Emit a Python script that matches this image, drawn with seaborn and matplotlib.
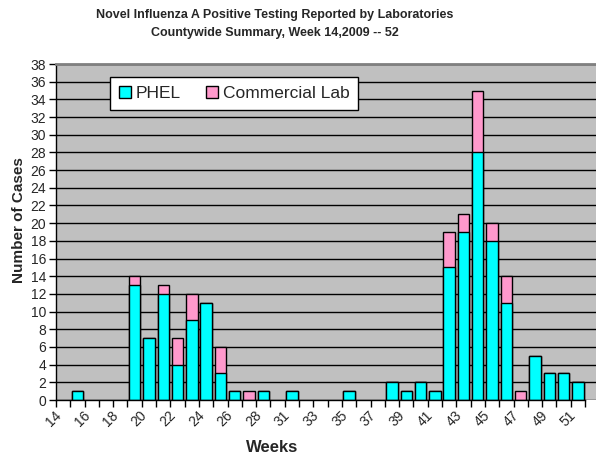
import numpy as np
import pandas as pd
import seaborn as sns
import matplotlib.pyplot as plt
import matplotlib.transforms as mtransforms

weeks = ['14', '15', '16', '17', '18', '19', '20', '21', '22', '23', '24', '25', '26', '27', '28',
         '29', '31', '32', '33', '34', '35', '36', '37', '38', '39', '40', '41', '42', '43', '44',
         '45', '46', '47', '48', '49', '50', '51']
phel = [0, 1, 0, 0, 0, 13, 7, 12, 4, 9, 11, 3, 1, 0, 1,
        0, 1, 0, 0, 0, 1, 0, 0, 2, 1, 2, 1, 15, 19, 28,
        18, 11, 0, 5, 3, 3, 2]
commercial = [0, 0, 0, 0, 0, 1, 0, 1, 3, 3, 0, 3, 0, 1, 0,
              0, 0, 0, 0, 0, 0, 0, 0, 0, 0, 0, 0, 4, 2, 7,
              2, 3, 1, 0, 0, 0, 0]
week_labels = ['14', '16', '18', '20', '22', '24', '26', '28', '31', '33', '35', '37', '39',
               '41', '43', '45', '47', '49', '51']

CYAN = "#00FFFF"
PINK = "#FF99CC"

sns.set_style("white")
plt.rcParams["font.family"] = ["Liberation Sans", "DejaVu Sans"]

df = pd.DataFrame({"week": weeks, "phel": phel, "commercial": commercial})
df["total"] = df["phel"] + df["commercial"]

fig = plt.figure(figsize=(5.96, 4.59), dpi=100)
ax = fig.add_axes([56 / 596, 59 / 459, 540 / 596, 336 / 459])
ax.set_facecolor("#C0C0C0")

# stacked: total (pink) first, PHEL (cyan) over it
sns.barplot(data=df, x="week", y="total", order=weeks, color=PINK, saturation=1,
            edgecolor="black", linewidth=1, width=0.8, errorbar=None, ax=ax)
sns.barplot(data=df, x="week", y="phel", order=weeks, color=CYAN, saturation=1,
            edgecolor="black", linewidth=1, width=0.8, errorbar=None, ax=ax)
for p in ax.patches:
    if p.get_height() == 0:
        p.set_visible(False)

n = len(weeks)
ax.set_xlim(-0.5, n - 0.5 + 11 / 14.3)
ax.set_ylim(0, 38)
ax.set_yticks(range(0, 39, 2))
ax.grid(axis="y", color="black", linewidth=1)
ax.set_axisbelow(True)

ax.set_xticks(np.arange(n + 1) - 0.5)
ax.set_xticklabels([])
ax.set_xticks(range(0, n, 2), minor=True)
ax.set_xticklabels(week_labels, minor=True, rotation=45, ha="right",
                   rotation_mode="anchor", fontsize=10)
ax.tick_params(axis="x", which="major", direction="out", length=5, width=1, color="black", bottom=True)
ax.tick_params(axis="x", which="minor", length=0, pad=6)
ax.tick_params(axis="y", direction="out", length=5, width=1, color="black", left=True,
               labelsize=10, pad=2)
offset = mtransforms.ScaledTranslation(-9 / 100, 0, fig.dpi_scale_trans)
for lab in ax.get_xticklabels(minor=True):
    lab.set_transform(lab.get_transform() + offset)

for s in ["left", "bottom"]:
    ax.spines[s].set_color("black")
    ax.spines[s].set_linewidth(1)
ax.spines["bottom"].set_bounds(-0.5, n - 0.5)
ax.spines["top"].set_color("#808080")
ax.spines["top"].set_linewidth(2)
ax.spines["right"].set_visible(False)
ax.set_xlabel("")
ax.set_ylabel("")

handles = [plt.Rectangle((0, 0), 1, 1, facecolor=CYAN, edgecolor="black", linewidth=1),
           plt.Rectangle((0, 0), 1, 1, facecolor=PINK, edgecolor="black", linewidth=1)]
leg = ax.legend(handles, ["PHEL", "Commercial Lab"], ncol=2, loc="upper left",
                bbox_to_anchor=(0.1, 0.961), borderaxespad=0, fontsize=12.5,
                handlelength=0.7, handleheight=0.7, handletextpad=0.25,
                columnspacing=1.5, borderpad=0.5, fancybox=False, framealpha=1)
leg.get_frame().set_edgecolor("black")
leg.get_frame().set_linewidth(1)

fig.text(275 / 596, 1 - 15 / 459, "Novel Influenza A Positive Testing Reported by Laboratories",
         ha="center", va="center", fontsize=9, fontweight="bold")
fig.text(275 / 596, 1 - 33 / 459, "Countywide Summary, Week 14,2009 -- 52",
         ha="center", va="center", fontsize=9, fontweight="bold")
fig.text(19 / 596, 0.52, "Number of Cases", rotation=90, ha="center", va="center",
         fontsize=11, fontweight="bold")
fig.text(272 / 596, 1 - 447 / 459, "Weeks", ha="center", va="center",
         fontsize=12, fontweight="bold")

fig.savefig("out.png", dpi=100)
